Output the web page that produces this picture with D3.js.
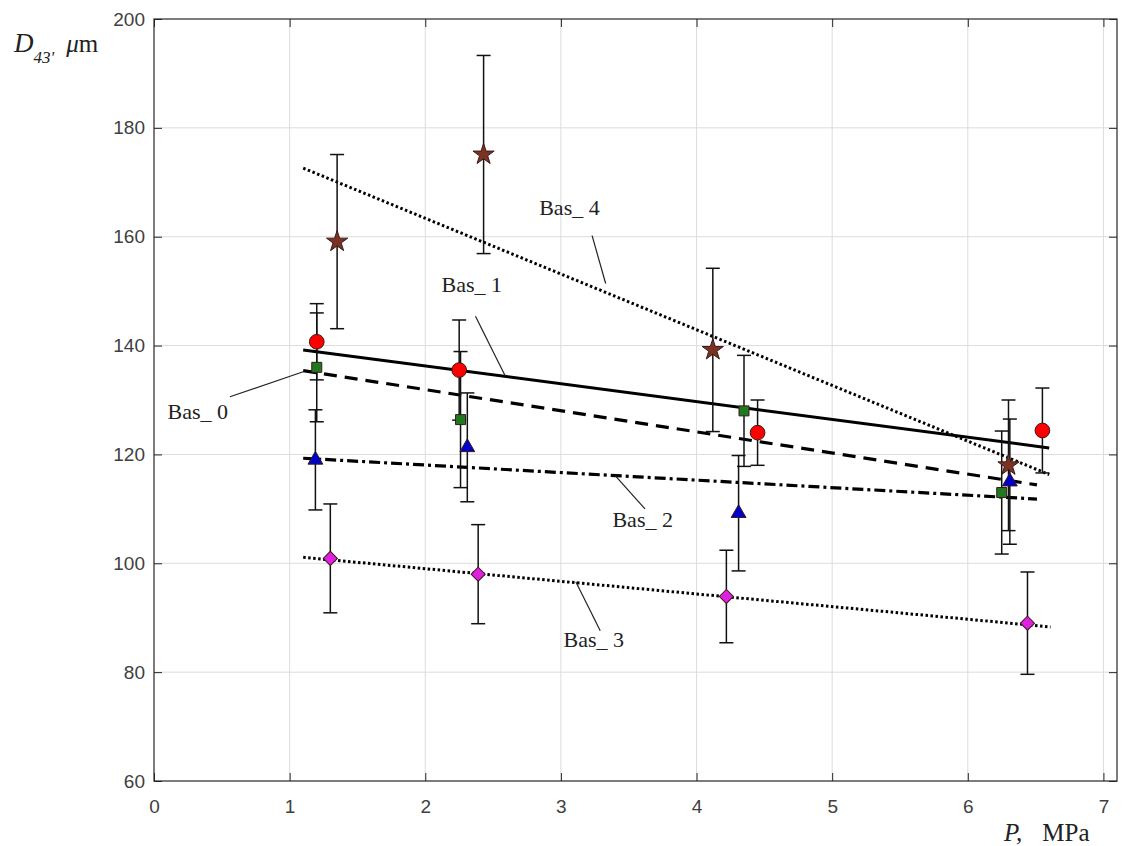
<!DOCTYPE html>
<html>
<head>
<meta charset="utf-8">
<script src="https://cdn.jsdelivr.net/npm/d3@7"></script>
<style>
  body { margin: 0; background: #fff; }
  svg { display: block; }
</style>
</head>
<body>
<script>
var bas0X = [1.2, 2.26, 4.35, 6.25];
var bas0Y = [136, 126.4, 128, 113];
var bas0Err = [10, 12.5, 10.2, 11.3];

var bas1X = [1.2, 2.25, 4.45, 6.55];
var bas1Y = [140.7, 135.5, 124, 124.4];
var bas1Err = [7, 9.2, 6, 7.8];

var bas2X = [1.19, 2.31, 4.31, 6.31];
var bas2Y = [119, 121.3, 109.2, 115];
var bas2Err = [9.2, 10, 10.6, 11.5];

var bas3X = [1.3, 2.39, 4.22, 6.44];
var bas3Y = [100.9, 98, 93.9, 89];
var bas3Err = [10, 9.1, 8.5, 9.4];

var bas4X = [1.35, 2.43, 4.12, 6.3];
var bas4Y = [159.1, 175.1, 139.2, 118];
var bas4Err = [16, 18.2, 15, 12];

// fitted lines: [x0, x1], [y0, y1]
var fit0X = [1.1, 6.51], fit0Y = [135.4, 114.4];
var fit1X = [1.1, 6.6],  fit1Y = [139.2, 121.2];
var fit2X = [1.1, 6.51], fit2Y = [119.3, 111.8];
var fit3X = [1.1, 6.61], fit3Y = [101.1, 88.3];
var fit4X = [1.1, 6.6],  fit4Y = [172.6, 116.3];

var xTicks = [0, 1, 2, 3, 4, 5, 6, 7];
var yTicks = [60, 80, 100, 120, 140, 160, 180, 200];

// label text, label spot (x, y) and leader from (lx0, ly0) to (lx1, ly1), all in data units
var labelText = ["Bas_ 0", "Bas_ 1", "Bas_ 2", "Bas_ 3", "Bas_ 4"];
var labelX = [0.10, 2.12, 3.38, 3.02, 2.84];
var labelY = [126.6, 149.9, 106.6, 84.6, 164];
var leadX0 = [0.56, 2.37, 3.40, 3.11, 3.23];
var leadY0 = [130.6, 145.4, 116.1, 96.6, 160.2];
var leadX1 = [1.1, 2.59, 3.62, 3.29, 3.33];
var leadY1 = [135.2, 134.4, 110.0, 87.6, 151.4];

var W = 1126, H = 846;
var pL = 154, pR = 1117, pT = 19, pB = 781;

var svg = d3.select('body').append('svg')
            .attr('width', W)
            .attr('height', H);

var x = d3.scaleLinear().domain([0, 7.1]).range([pL, pR]);
var y = d3.scaleLinear().domain([60, 200]).range([pB, pT]);

// grid
svg.append('g').selectAll('line')
   .data(xTicks.filter(function (d) { return d > 0; }))
   .enter().append('line')
   .attr('x1', function (d) { return x(d); })
   .attr('x2', function (d) { return x(d); })
   .attr('y1', pT).attr('y2', pB)
   .attr('stroke', '#dcdcdc').attr('stroke-width', 1);

svg.append('g').selectAll('line')
   .data(yTicks.filter(function (d) { return d > 60 && d < 200; }))
   .enter().append('line')
   .attr('x1', pL).attr('x2', pR)
   .attr('y1', function (d) { return y(d); })
   .attr('y2', function (d) { return y(d); })
   .attr('stroke', '#dcdcdc').attr('stroke-width', 1);

// axes, ticks pointing inwards, on all four sides
var tickLen = 8;
svg.append('g').attr('transform', 'translate(0,' + pB + ')')
   .call(d3.axisBottom(x).tickValues(xTicks).tickSize(-tickLen).tickFormat(d3.format('d')))
   .call(function (g) {
     g.select('.domain').remove();
     g.selectAll('text').attr('dy', 0).attr('y', 32);
   });
svg.append('g').attr('transform', 'translate(' + pL + ',0)')
   .call(d3.axisLeft(y).tickValues(yTicks).tickSize(-tickLen))
   .call(function (g) {
     g.select('.domain').remove();
     g.selectAll('text').attr('x', -9);
   });
svg.append('g').attr('transform', 'translate(0,' + pT + ')')
   .call(d3.axisTop(x).tickValues(xTicks).tickSize(-tickLen).tickFormat(''))
   .call(function (g) { g.select('.domain').remove(); });
svg.append('g').attr('transform', 'translate(' + pR + ',0)')
   .call(d3.axisRight(y).tickValues(yTicks).tickSize(-tickLen).tickFormat(''))
   .call(function (g) { g.select('.domain').remove(); });

svg.selectAll('.tick line').attr('stroke', '#262626');
svg.selectAll('.tick text')
   .attr('font-family', 'Liberation Sans, Arial, sans-serif')
   .attr('font-size', 19)
   .attr('fill', '#404040');

svg.append('rect')
   .attr('x', pL).attr('y', pT)
   .attr('width', pR - pL).attr('height', pB - pT)
   .attr('fill', 'none').attr('stroke', '#262626').attr('stroke-width', 1.2);

// fitted lines
var fits = [
  { xs: fit1X, ys: fit1Y, dash: null,          w: 3 },
  { xs: fit0X, ys: fit0Y, dash: '13,8',        w: 3.2 },
  { xs: fit2X, ys: fit2Y, dash: '11,4,3,4',    w: 3.2 },
  { xs: fit3X, ys: fit3Y, dash: '2.5,2.5',     w: 3 },
  { xs: fit4X, ys: fit4Y, dash: '2.5,2.5',     w: 3 }
];
fits.forEach(function (f) {
  svg.append('line')
     .attr('x1', x(f.xs[0])).attr('y1', y(f.ys[0]))
     .attr('x2', x(f.xs[1])).attr('y2', y(f.ys[1]))
     .attr('stroke', '#000')
     .attr('stroke-width', f.w)
     .attr('stroke-dasharray', f.dash);
});

// labels + leader lines
labelText.forEach(function (t, i) {
  svg.append('line')
     .attr('x1', x(leadX0[i])).attr('y1', y(leadY0[i]))
     .attr('x2', x(leadX1[i])).attr('y2', y(leadY1[i]))
     .attr('stroke', '#222').attr('stroke-width', 1.2);
  svg.append('text')
     .attr('x', x(labelX[i])).attr('y', y(labelY[i]))
     .attr('font-family', 'Liberation Serif, Times New Roman, serif')
     .attr('font-size', 22)
     .attr('fill', '#222')
     .text(t);
});

// series with error bars
var series = [
  { xs: bas0X, ys: bas0Y, err: bas0Err, sym: d3.symbolSquare,   size: 100, rot: 0,  fill: '#1f7a1f' },
  { xs: bas1X, ys: bas1Y, err: bas1Err, sym: d3.symbolCircle,   size: 170, rot: 0,  fill: '#ff0000' },
  { xs: bas2X, ys: bas2Y, err: bas2Err, sym: d3.symbolTriangle, size: 95,  rot: 0,  fill: '#0000cc' },
  { xs: bas3X, ys: bas3Y, err: bas3Err, sym: d3.symbolSquare,   size: 100, rot: 45, fill: '#e020e0' },
  { xs: bas4X, ys: bas4Y, err: bas4Err, sym: d3.symbolStar,     size: 140, rot: 0,  fill: '#7a3322' }
];

var cap = 7;
series.forEach(function (s) {
  var pts = s.xs.map(function (v, i) { return { x: v, y: s.ys[i], e: s.err[i] }; });
  var g = svg.append('g');
  var eb = g.selectAll('g').data(pts).enter().append('g')
            .attr('stroke', '#111').attr('stroke-width', 1.5);
  eb.append('line')
    .attr('x1', function (d) { return x(d.x); })
    .attr('x2', function (d) { return x(d.x); })
    .attr('y1', function (d) { return y(d.y + d.e); })
    .attr('y2', function (d) { return y(d.y - d.e); });
  eb.append('line')
    .attr('x1', function (d) { return x(d.x) - cap; })
    .attr('x2', function (d) { return x(d.x) + cap; })
    .attr('y1', function (d) { return y(d.y + d.e); })
    .attr('y2', function (d) { return y(d.y + d.e); });
  eb.append('line')
    .attr('x1', function (d) { return x(d.x) - cap; })
    .attr('x2', function (d) { return x(d.x) + cap; })
    .attr('y1', function (d) { return y(d.y - d.e); })
    .attr('y2', function (d) { return y(d.y - d.e); });
});

series.forEach(function (s) {
  var pts = s.xs.map(function (v, i) { return { x: v, y: s.ys[i] }; });
  svg.append('g').selectAll('path').data(pts).enter().append('path')
     .attr('d', d3.symbol().type(s.sym).size(s.size))
     .attr('transform', function (d) {
       return 'translate(' + x(d.x) + ',' + y(d.y) + ') rotate(' + s.rot + ')';
     })
     .attr('fill', s.fill)
     .attr('stroke', '#3a1a1a')
     .attr('stroke-width', 1);
});

// axis titles
var yl = svg.append('text')
            .attr('x', 14).attr('y', 52)
            .attr('font-family', 'Liberation Serif, Times New Roman, serif')
            .attr('fill', '#222');
yl.append('tspan').attr('font-style', 'italic').attr('font-size', 27).text('D');
yl.append('tspan').attr('font-style', 'italic').attr('font-size', 17).attr('dy', 11).text("43'");
yl.append('tspan').attr('font-style', 'italic').attr('font-size', 25).attr('dy', -11).attr('dx', 12).text('\u03bc');
yl.append('tspan').attr('font-size', 25).text('m');

var xl = svg.append('text')
            .attr('x', 1004).attr('y', 841)
            .attr('font-family', 'Liberation Serif, Times New Roman, serif')
            .attr('fill', '#222');
xl.append('tspan').attr('font-style', 'italic').attr('font-size', 25).text('P,');
xl.append('tspan').attr('font-size', 25).attr('dx', 20).text('MPa');
</script>
</body>
</html>
